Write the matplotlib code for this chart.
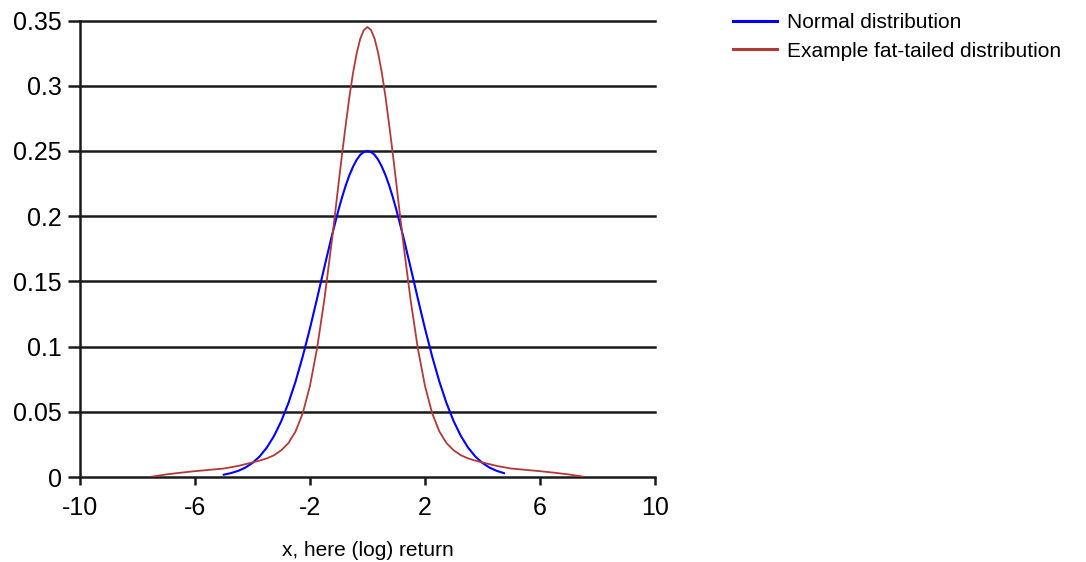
import matplotlib
matplotlib.use('Agg')
from matplotlib import pyplot as plt

plt.rcParams['font.family'] = ['Liberation Sans', 'DejaVu Sans']
plt.rcParams['axes.unicode_minus'] = False

# normal distribution
normal_x = [-5.0, -4.75, -4.5, -4.25, -4.0, -3.75, -3.5, -3.25, -3.0, -2.75,
            -2.5, -2.25, -2.0, -1.75, -1.5, -1.25, -1.0, -0.875, -0.75, -0.625,
            -0.5, -0.375, -0.25, -0.125, 0.0, 0.125, 0.25, 0.375, 0.5, 0.625,
            0.75, 0.875, 1.0, 1.25, 1.5, 1.75, 2.0, 2.25,
            2.5, 2.75, 3.0, 3.25, 3.5, 3.75, 4.0, 4.25, 4.5, 4.75]
normal_y = [0.0018, 0.0030, 0.0047, 0.0072, 0.0108, 0.0158, 0.0226, 0.0315, 0.0428, 0.0567,
            0.0733, 0.0926, 0.1140, 0.1371, 0.1608, 0.1840, 0.2054, 0.2151, 0.2239, 0.2316,
            0.2380, 0.2432, 0.2470, 0.2492, 0.2500, 0.2492, 0.2470, 0.2432, 0.2380, 0.2316,
            0.2239, 0.2151, 0.2054, 0.1840, 0.1608, 0.1371, 0.1140, 0.0926,
            0.0733, 0.0567, 0.0428, 0.0315, 0.0226, 0.0158, 0.0108, 0.0072, 0.0047, 0.0030]

# fat-tailed distribution
fat_x = [-7.5, -7.0, -6.5, -6.0, -5.5, -5.0, -4.5, -4.0,
         -3.75, -3.5, -3.25, -3.0, -2.75, -2.5, -2.25, -2.0, -1.75, -1.5,
         -1.25, -1.125, -1.0, -0.875, -0.75, -0.625, -0.5, -0.375, -0.25, -0.125,
         0.0, 0.125, 0.25, 0.375, 0.5, 0.625, 0.75, 0.875, 1.0, 1.125, 1.25,
         1.5, 1.75, 2.0, 2.25, 2.5, 2.75, 3.0, 3.25, 3.5, 3.75,
         4.0, 4.5, 5.0, 5.5, 6.0, 6.5, 7.0, 7.5]
fat_y = [0.0003, 0.0020, 0.0033, 0.0045, 0.0055, 0.0065, 0.0085, 0.0112,
         0.0126, 0.0143, 0.0167, 0.0205, 0.026, 0.035, 0.049, 0.070, 0.099, 0.136,
         0.179, 0.2022, 0.226, 0.2491, 0.271, 0.2919, 0.310, 0.3248, 0.336, 0.3427,
         0.345, 0.3427, 0.336, 0.3248, 0.310, 0.2919, 0.271, 0.2491, 0.226, 0.2022, 0.179,
         0.136, 0.099, 0.070, 0.049, 0.035, 0.026, 0.0205, 0.0167, 0.0143, 0.0126,
         0.0112, 0.0085, 0.0065, 0.0055, 0.0045, 0.0033, 0.0020, 0.0003]

x_ticks = [-10, -6, -2, 2, 6, 10]
y_ticks = [0, 0.05, 0.1, 0.15, 0.2, 0.25, 0.3, 0.35]
y_labels = ['0', '0.05', '0.1', '0.15', '0.2', '0.25', '0.3', '0.35']

fig = plt.figure(figsize=(10.86, 5.62), dpi=100)
ax = fig.add_axes([0.0737, 0.1512, 0.5293, 0.8123])

# horizontal grid lines
for yv in y_ticks:
    ax.axhline(yv, color='#1a1a1a', lw=1.8, zorder=1, clip_on=False)

ax.plot(normal_x, normal_y, color='#0000ff', lw=1.5, label='Normal distribution',
        zorder=3, solid_joinstyle='round')
ax.plot(fat_x, fat_y, color='#b03a3a', lw=1.3, label='Example fat-tailed distribution',
        zorder=3, solid_joinstyle='round')

ax.set_xlim(-10, 10)
ax.set_ylim(0, 0.35)
ax.set_xticks(x_ticks)
ax.set_yticks(y_ticks)
ax.set_yticklabels(y_labels)

for s in ['top', 'right', 'bottom']:
    ax.spines[s].set_visible(False)
ax.spines['left'].set_linewidth(1.8)
ax.spines['left'].set_color('#1a1a1a')
ax.tick_params(axis='y', length=9, width=1.8, labelsize=18, pad=4, color='#1a1a1a')
ax.tick_params(axis='x', length=6, width=1.8, labelsize=18, pad=8, color='#1a1a1a')
ax.set_xlabel('x, here (log) return', fontsize=15, labelpad=15)

leg = fig.legend(loc='upper left', bbox_to_anchor=(0.6656, 0.995), frameon=False,
                 fontsize=15, handlelength=2.1, handletextpad=0.5,
                 borderpad=0, labelspacing=0.45)
for line in leg.get_lines():
    line.set_linewidth(2.2)

fig.savefig('out.png', dpi=100)
